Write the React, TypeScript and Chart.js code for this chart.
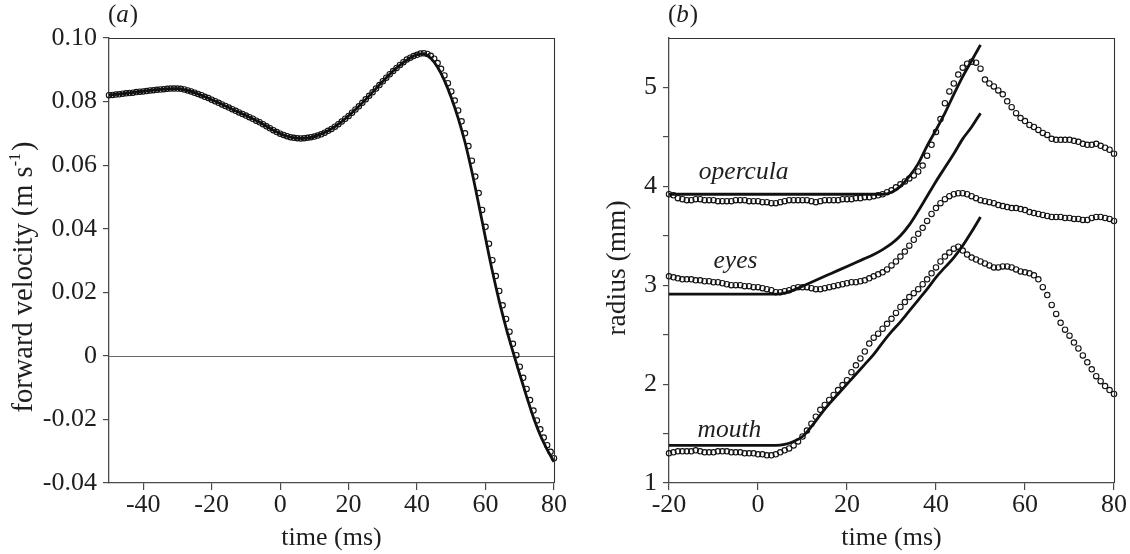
import React, { useEffect, useRef } from "react";
import { Chart, registerables } from "chart.js";

Chart.register(...registerables);

// ---------------- Panel (a): forward velocity ----------------
const timeA: number[] = Array.from({ length: 131 }, (_, i) => -50 + i); // sampling times, 1 ms apart
const velocityObserved: number[] = [
  0.0820, 0.0821, 0.0822, 0.0823, 0.0825, 0.0826, 0.0827, 0.0828, 0.0830, 0.0831,
  0.0832, 0.0833, 0.0835, 0.0836, 0.0837, 0.0838, 0.0839, 0.0840, 0.0841, 0.0841,
  0.0841, 0.0840, 0.0838, 0.0835, 0.0832, 0.0828, 0.0824, 0.0820, 0.0815, 0.0811,
  0.0806, 0.0801, 0.0796, 0.0791, 0.0786, 0.0781, 0.0776, 0.0771, 0.0766, 0.0761,
  0.0756, 0.0751, 0.0746, 0.0740, 0.0735, 0.0729, 0.0722, 0.0716, 0.0710, 0.0704,
  0.0699, 0.0695, 0.0691, 0.0688, 0.0686, 0.0685, 0.0684, 0.0685, 0.0686, 0.0688,
  0.0690, 0.0693, 0.0697, 0.0702, 0.0708, 0.0714, 0.0721, 0.0729, 0.0737, 0.0746,
  0.0755, 0.0765, 0.0775, 0.0785, 0.0796, 0.0807, 0.0818, 0.0829, 0.0841, 0.0852,
  0.0864, 0.0875, 0.0886, 0.0896, 0.0906, 0.0915, 0.0924, 0.0932, 0.0938, 0.0943,
  0.0947, 0.0951, 0.0952, 0.0950, 0.0944, 0.0935, 0.0921, 0.0903, 0.0882, 0.0858,
  0.0832, 0.0803, 0.0772, 0.0738, 0.0700, 0.0660, 0.0614, 0.0564, 0.0512, 0.0459,
  0.0406, 0.0353, 0.0301, 0.0251, 0.0204, 0.0159, 0.0116, 0.0076, 0.0038, 0.0002,
  -0.0034, -0.0069, -0.0104, -0.0139, -0.0172, -0.0203, -0.0231, -0.0257, -0.0281, -0.0302,
  -0.0322,
];
const timeModelA: number[] = [
  -50, -46, -42, -38, -34, -30, -26, -22, -18, -14, -10, -6, -2, 2, 6, 10, 14, 18, 22, 26,
  30, 34, 38, 40, 42, 44, 46, 48, 50, 52, 54, 56, 58, 60, 62, 64, 66, 68, 70, 72, 74, 76, 78, 80,
];
const velocityModel: number[] = [
  0.0820, 0.0825, 0.0830, 0.0835, 0.0839, 0.0841, 0.0832, 0.0815, 0.0796, 0.0776,
  0.0756, 0.0735, 0.0710, 0.0691, 0.0684, 0.0690, 0.0708, 0.0737, 0.0775, 0.0818,
  0.0864, 0.0906, 0.0938, 0.0948, 0.0950, 0.0936, 0.0908, 0.0866, 0.0812, 0.0748,
  0.0672, 0.0580, 0.0477, 0.0370, 0.0266, 0.0172, 0.0088, 0.0013, -0.0058, -0.0128,
  -0.0194, -0.0250, -0.0295, -0.0333,
];
const xTicksA: number[] = [-40, -20, 0, 20, 40, 60, 80];
const yTicksA: number[] = [-0.04, -0.02, 0, 0.02, 0.04, 0.06, 0.08, 0.1];

// ---------------- Panel (b): radius ----------------
const timeB: number[] = Array.from({ length: 101 }, (_, i) => -20 + i); // sampling times, 1 ms apart
const operculaObserved: number[] = [
  3.92, 3.91, 3.88, 3.87, 3.86, 3.86, 3.87, 3.87, 3.86, 3.86, 3.86, 3.85, 3.85, 3.85, 3.85, 3.86, 3.86, 3.86, 3.85, 3.85,
  3.85, 3.84, 3.84, 3.83, 3.83, 3.84, 3.85, 3.86, 3.86, 3.86, 3.86, 3.86, 3.85, 3.84, 3.85, 3.86, 3.86, 3.86, 3.86, 3.87,
  3.87, 3.87, 3.88, 3.88, 3.89, 3.89, 3.90, 3.91, 3.92, 3.94, 3.96, 3.99, 4.02, 4.05, 4.08, 4.11, 4.15, 4.21, 4.31, 4.42,
  4.55, 4.68, 4.84, 4.96, 5.04, 5.13, 5.20, 5.24, 5.26, 5.25, 5.19, 5.08, 5.04, 5.01, 4.97, 4.93, 4.86, 4.80, 4.74, 4.69,
  4.66, 4.62, 4.60, 4.57, 4.54, 4.52, 4.48, 4.47, 4.47, 4.47, 4.47, 4.46, 4.45, 4.43, 4.42, 4.42, 4.43, 4.41, 4.39, 4.37,
  4.33,
];
const eyesObserved: number[] = [
  3.09, 3.08, 3.07, 3.06, 3.06, 3.06, 3.05, 3.05, 3.04, 3.04, 3.03, 3.03, 3.02, 3.01, 3.00, 3.00, 3.00, 2.99, 2.99, 2.98,
  2.98, 2.97, 2.96, 2.95, 2.93, 2.93, 2.94, 2.95, 2.97, 2.98, 2.98, 2.98, 2.97, 2.96, 2.96, 2.97, 2.98, 2.99, 3.00, 3.01,
  3.02, 3.03, 3.03, 3.04, 3.05, 3.07, 3.09, 3.11, 3.13, 3.16, 3.20, 3.24, 3.29, 3.34, 3.40, 3.46, 3.52, 3.58, 3.65, 3.72,
  3.78, 3.83, 3.87, 3.90, 3.92, 3.93, 3.93, 3.92, 3.90, 3.88, 3.86, 3.85, 3.84, 3.83, 3.81, 3.80, 3.79, 3.78, 3.78, 3.77,
  3.76, 3.74, 3.73, 3.72, 3.71, 3.70, 3.69, 3.69, 3.69, 3.68, 3.68, 3.67, 3.67, 3.66, 3.66, 3.68, 3.69, 3.69, 3.68, 3.67,
  3.65,
];
const mouthObserved: number[] = [
  1.30, 1.31, 1.32, 1.32, 1.32, 1.32, 1.33, 1.32, 1.31, 1.31, 1.31, 1.32, 1.32, 1.32, 1.31, 1.31, 1.31, 1.30, 1.30, 1.30,
  1.29, 1.29, 1.28, 1.28, 1.29, 1.31, 1.33, 1.35, 1.38, 1.42, 1.47, 1.53, 1.60, 1.67, 1.74, 1.79, 1.84, 1.89, 1.94, 1.99,
  2.04, 2.12, 2.19, 2.26, 2.33, 2.41, 2.47, 2.51, 2.56, 2.61, 2.66, 2.72, 2.78, 2.83, 2.88, 2.92, 2.96, 3.01, 3.06, 3.12,
  3.18, 3.24, 3.29, 3.33, 3.37, 3.39, 3.35, 3.31, 3.28, 3.26, 3.24, 3.22, 3.20, 3.18, 3.18, 3.19, 3.19, 3.18, 3.16, 3.14,
  3.13, 3.12, 3.10, 3.06, 2.98, 2.90, 2.80, 2.71, 2.62, 2.55, 2.49, 2.42, 2.36, 2.29, 2.22, 2.15, 2.08, 2.03, 1.98, 1.94,
  1.90,
];
const timeModelOpercula: number[] = [-20, 28, 30, 32, 34, 36, 38, 40, 42, 44, 46, 48, 50];
const operculaModel: number[] = [3.92, 3.92, 3.94, 4.00, 4.10, 4.23, 4.41, 4.57, 4.74, 4.93, 5.11, 5.27, 5.43];
const timeModelEyes: number[] = [-20, 4, 6, 8, 10, 12, 14, 16, 18, 20, 22, 24, 26, 28, 30, 32, 34, 36, 38, 40, 42, 44, 46, 48, 50];
const eyesModel: number[] = [
  2.91, 2.91, 2.92, 2.95, 2.99, 3.03, 3.07, 3.11, 3.15, 3.19, 3.23, 3.27, 3.31, 3.36, 3.42,
  3.50, 3.61, 3.75, 3.90, 4.05, 4.19, 4.33, 4.48, 4.60, 4.74,
];
const timeModelMouth: number[] = [-20, 4, 6, 8, 10, 12, 14, 16, 18, 20, 22, 24, 26, 28, 30, 32, 34, 36, 38, 40, 42, 44, 46, 48, 50];
const mouthModel: number[] = [
  1.38, 1.38, 1.39, 1.42, 1.47, 1.57, 1.69, 1.80, 1.90, 2.00, 2.10, 2.20, 2.30, 2.42, 2.53,
  2.63, 2.74, 2.85, 2.96, 3.08, 3.18, 3.28, 3.40, 3.54, 3.69,
];
const xTicksB: number[] = [-20, 0, 20, 40, 60, 80];
const yTicksB: number[] = [1, 1.5, 2, 2.5, 3, 3.5, 4, 4.5, 5];
const seriesLabels = [
  { text: "opercula", t: -13.3, v: 4.07 },
  { text: "eyes", t: -10.0, v: 3.17 },
  { text: "mouth", t: -13.6, v: 1.465 },
];

// ---------------- styling ----------------
const FONT = "'Liberation Serif', 'Times New Roman', serif";
const AXIS = "#4a4a4a";
const TXT = "#1e1e1e";
const W = 1130;
const H = 554;

const pts = (xs: number[], ys: number[]) => xs.map((x, i) => ({ x, y: ys[i] }));

const circles = (data: { x: number; y: number }[]) => ({
  data,
  showLine: false,
  pointStyle: "circle",
  pointRadius: 2.7,
  pointBorderWidth: 1.1,
  pointBorderColor: "#111",
  pointBackgroundColor: "rgba(255,255,255,0)",
  borderColor: "#111",
  backgroundColor: "rgba(255,255,255,0)",
  clip: false,
});

const modelLine = (data: { x: number; y: number }[]) => ({
  data,
  showLine: true,
  pointRadius: 0,
  borderColor: "#111",
  borderWidth: 2.8,
  cubicInterpolationMode: "monotone",
  fill: false,
  clip: false,
});

function axisX(min: number, max: number, ticks: number[]) {
  return {
    type: "linear",
    position: "bottom",
    min,
    max,
    afterBuildTicks: (s: any) => {
      s.ticks = ticks.map((v) => ({ value: v }));
    },
    afterFit: (s: any) => {
      s.height = 71;
    },
    grid: { drawOnChartArea: false, drawTicks: true, tickLength: 7, color: AXIS, lineWidth: 1.2 },
    border: { display: true, color: AXIS, width: 1.3 },
    ticks: {
      font: { family: FONT, size: 26 },
      color: TXT,
      padding: 0,
      maxRotation: 0,
      autoSkip: false,
      callback: (v: number) => String(v),
    },
  };
}

function axisY(min: number, max: number, ticks: number[], width: number, fmt: (v: number) => string) {
  return {
    type: "linear",
    position: "left",
    min,
    max,
    afterBuildTicks: (s: any) => {
      s.ticks = ticks.map((v) => ({ value: v }));
    },
    afterFit: (s: any) => {
      s.width = width;
    },
    grid: { drawOnChartArea: false, drawTicks: true, tickLength: 6, color: AXIS, lineWidth: 1.2 },
    border: { display: true, color: AXIS, width: 1.3 },
    ticks: {
      font: { family: FONT, size: 26 },
      color: TXT,
      padding: 6,
      autoSkip: false,
      callback: (v: number) => fmt(v),
    },
  };
}

function drawBox(chart: any) {
  const { ctx, chartArea: ca } = chart;
  ctx.save();
  ctx.strokeStyle = "#333";
  ctx.lineWidth = 1.1;
  ctx.beginPath();
  ctx.moveTo(ca.left, Math.round(ca.top) + 0.5);
  ctx.lineTo(ca.right, Math.round(ca.top) + 0.5);
  ctx.moveTo(Math.round(ca.right) + 0.5, ca.top);
  ctx.lineTo(Math.round(ca.right) + 0.5, ca.bottom);
  ctx.stroke();
  ctx.restore();
}

function drawPanelLabel(ctx: CanvasRenderingContext2D, letter: string, x: number, y: number) {
  ctx.save();
  ctx.fillStyle = TXT;
  ctx.textBaseline = "alphabetic";
  ctx.textAlign = "left";
  ctx.font = `25px ${FONT}`;
  ctx.fillText("(", x, y);
  let cx = x + ctx.measureText("(").width;
  ctx.font = `italic 25px ${FONT}`;
  ctx.fillText(letter, cx, y);
  cx += ctx.measureText(letter).width + 1;
  ctx.font = `25px ${FONT}`;
  ctx.fillText(")", cx, y);
  ctx.restore();
}

function drawXTitle(chart: any, text: string) {
  const { ctx, chartArea: ca } = chart;
  ctx.save();
  ctx.fillStyle = TXT;
  ctx.font = `26px ${FONT}`;
  ctx.textAlign = "center";
  ctx.textBaseline = "alphabetic";
  ctx.fillText(text, (ca.left + ca.right) / 2, 545);
  ctx.restore();
}

const panelAPlugin = {
  id: "panelA",
  beforeDatasetsDraw(chart: any) {
    const { ctx, chartArea: ca, scales } = chart;
    const y0 = Math.round(scales.y.getPixelForValue(0)) + 0.5;
    ctx.save();
    ctx.strokeStyle = "#6a6a6a";
    ctx.lineWidth = 1.2;
    ctx.beginPath();
    ctx.moveTo(ca.left, y0);
    ctx.lineTo(ca.right, y0);
    ctx.stroke();
    ctx.restore();
  },
  afterDraw(chart: any) {
    const { ctx } = chart;
    drawBox(chart);
    drawPanelLabel(ctx, "a", 108, 22);
    drawXTitle(chart, "time (ms)");
    // rotated y title with superscript
    ctx.save();
    ctx.translate(25, 277);
    ctx.rotate(-Math.PI / 2);
    ctx.fillStyle = TXT;
    ctx.textBaseline = "middle";
    ctx.textAlign = "left";
    const main = "forward velocity (m s";
    const sup = "-1";
    const end = ")";
    ctx.font = `28.5px ${FONT}`;
    const w1 = ctx.measureText(main).width;
    const w3 = ctx.measureText(end).width;
    ctx.font = `16px ${FONT}`;
    const w2 = ctx.measureText(sup).width;
    const total = w1 + w2 + w3 + 2;
    let x = -total / 2;
    ctx.font = `28.5px ${FONT}`;
    ctx.fillText(main, x, 0);
    x += w1;
    ctx.font = `16px ${FONT}`;
    ctx.fillText(sup, x, -9);
    x += w2 + 2;
    ctx.font = `28.5px ${FONT}`;
    ctx.fillText(end, x, 0);
    ctx.restore();
  },
};

const panelBPlugin = {
  id: "panelB",
  afterDraw(chart: any) {
    const { ctx, scales } = chart;
    drawBox(chart);
    drawPanelLabel(ctx, "b", 668, 22);
    drawXTitle(chart, "time (ms)");
    ctx.save();
    ctx.translate(618, 268);
    ctx.rotate(-Math.PI / 2);
    ctx.fillStyle = TXT;
    ctx.font = `27.5px ${FONT}`;
    ctx.textAlign = "center";
    ctx.textBaseline = "middle";
    ctx.fillText("radius (mm)", 0, 0);
    ctx.restore();
    ctx.save();
    ctx.fillStyle = TXT;
    ctx.font = `italic 25.5px ${FONT}`;
    ctx.textAlign = "left";
    ctx.textBaseline = "alphabetic";
    for (const l of seriesLabels) {
      ctx.fillText(l.text, scales.x.getPixelForValue(l.t), scales.y.getPixelForValue(l.v));
    }
    ctx.restore();
  },
};

export default function App() {
  const refA = useRef<HTMLCanvasElement | null>(null);
  const refB = useRef<HTMLCanvasElement | null>(null);

  useEffect(() => {
    const common = {
      responsive: false,
      animation: false,
      devicePixelRatio: 1,
      plugins: { legend: { display: false }, tooltip: { enabled: false } },
      events: [],
    };
    const chartA = new Chart(refA.current as HTMLCanvasElement, {
      type: "scatter",
      data: {
        datasets: [circles(pts(timeA, velocityObserved)), modelLine(pts(timeModelA, velocityModel))] as any,
      },
      options: {
        ...common,
        layout: { padding: { left: 0, right: W - 554, top: 38, bottom: 0 } },
        scales: {
          x: axisX(-50, 80, xTicksA),
          y: axisY(-0.04, 0.1, yTicksA, 109, (v) => (Math.abs(v) < 1e-9 ? "0" : v.toFixed(2))),
        },
      } as any,
      plugins: [panelAPlugin],
    });
    const chartB = new Chart(refB.current as HTMLCanvasElement, {
      type: "scatter",
      data: {
        datasets: [
          circles(pts(timeB, operculaObserved)),
          circles(pts(timeB, eyesObserved)),
          circles(pts(timeB, mouthObserved)),
          modelLine(pts(timeModelOpercula, operculaModel)),
          modelLine(pts(timeModelEyes, eyesModel)),
          modelLine(pts(timeModelMouth, mouthModel)),
        ] as any,
      },
      options: {
        ...common,
        layout: { padding: { left: 600, right: W - 1114, top: 38, bottom: 0 } },
        scales: {
          x: axisX(-20, 80, xTicksB),
          y: axisY(1, 5.5, yTicksB, 69, (v) => (Number.isInteger(v) ? String(v) : "")),
        },
      } as any,
      plugins: [panelBPlugin],
    });
    return () => {
      chartA.destroy();
      chartB.destroy();
    };
  }, []);

  return (
    <div style={{ position: "absolute", left: 0, top: 0, width: W, height: H, background: "#fff" }}>
      <canvas ref={refA} width={W} height={H} style={{ position: "absolute", left: 0, top: 0 }} />
      <canvas ref={refB} width={W} height={H} style={{ position: "absolute", left: 0, top: 0 }} />
    </div>
  );
}
